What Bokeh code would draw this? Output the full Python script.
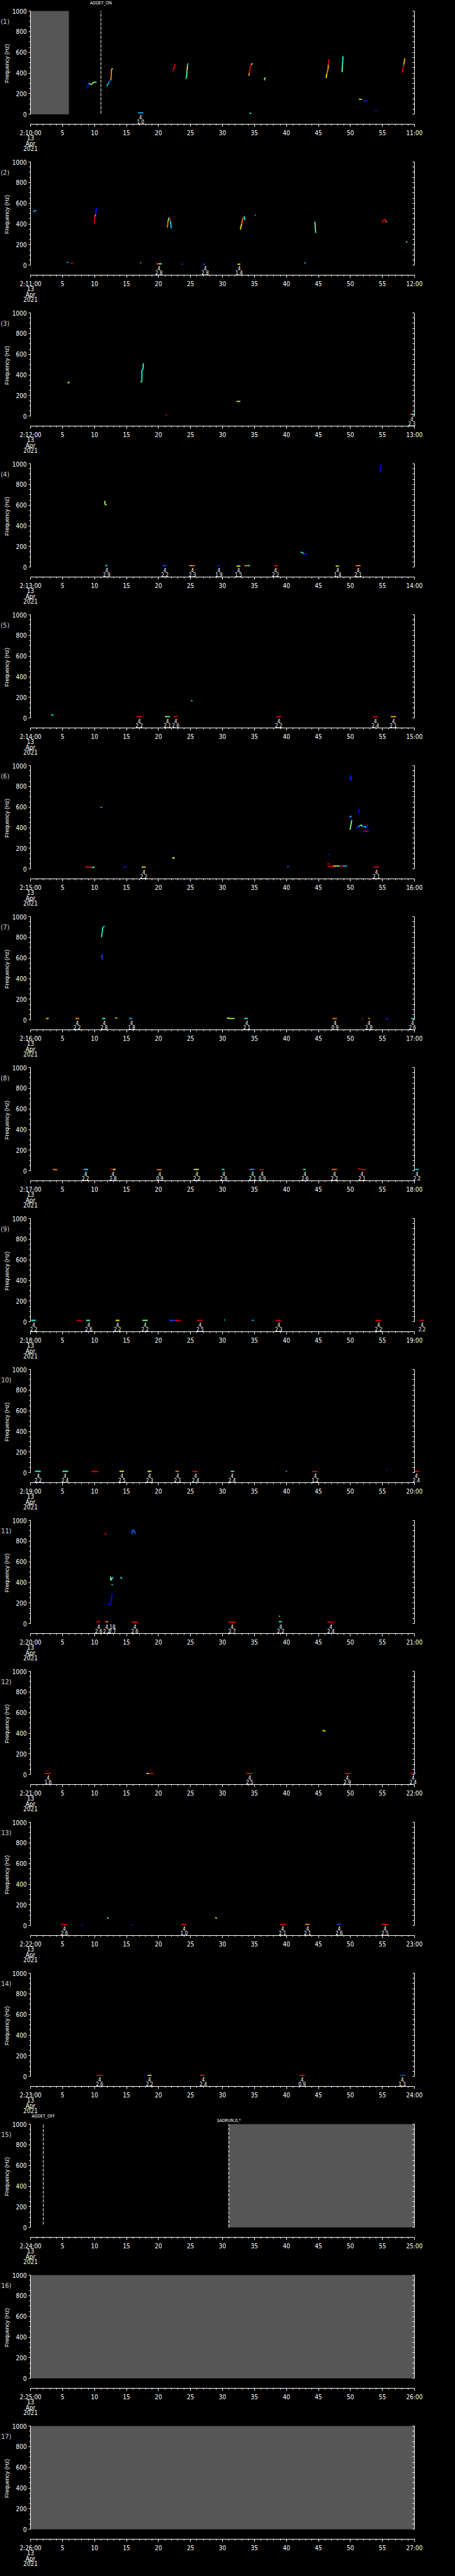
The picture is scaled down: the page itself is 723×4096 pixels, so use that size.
import numpy as np
from bokeh.plotting import figure
from bokeh.layouts import column
from bokeh.models import Range1d, LinearAxis, FixedTicker
from bokeh.core.properties import value
from bokeh.embed import file_html
from bokeh.resources import INLINE

FONT = "'Liberation Sans Narrow', 'DejaVu Sans Condensed', sans-serif"

# ---------------- data (t in seconds within the minute, f in Hz, c = colour level 0..1) -------------
START_MIN = list(range(10, 27))          # panel k covers 2:MM:00 .. 2:MM+1:00

P1_TRACES = [
    [(8.88, 248, .12), (9.0, 290, .15), (9.1, 301, .35), (9.3, 292, .45), (9.5, 289, .55), (9.7, 300, .6), (9.88, 312, .45), (10.33, 312, .4)],
    [(11.92, 275, .35), (12.1, 290, .3), (12.3, 315, .2), (12.5, 330, .7), (12.6, 351, .75), (12.65, 430, .65), (12.82, 444, .12)],
    [(22.25, 421, .9), (22.4, 440, .9), (22.5, 470, .9), (22.65, 484, .45)],
    [(24.29, 344, .4), (24.4, 365, .45), (24.47, 430, .65), (24.55, 470, .35), (24.6, 494, .12)],
    [(34.12, 372, .7), (34.2, 400, .9), (34.35, 466, .9), (34.5, 480, .6), (34.66, 494, .12)],
    [(36.52, 330, .5), (36.7, 358, .35)],
    [(46.2, 351, .65), (46.3, 390, .75), (46.5, 437, .7), (46.55, 480, .9), (46.6, 527, .9), (46.8, 523, .35)],
    [(48.7, 408, .5), (48.75, 473, .4), (48.84, 562, .3)],
    [(51.33, 148, .65), (51.5, 145, .5), (51.8, 143, .4)],
    [(52.1, 129, .15), (52.7, 129, .25)],
    [(53.9, 29, .15), (54.1, 29, .15)],
    [(58.1, 404, .9), (58.26, 458, .85), (58.35, 480, .7), (58.5, 542, .12)],
    [(16.8, 14, .3), (17.6, 14, .15)],
    [(34.2, 10, .4), (34.5, 10, .4)],
]
P1_ANN = [(17.2, "4", "1.0")]

P2_TRACES = [
    [(0.5, 513, .3), (0.6, 530, .3), (0.9, 528, .15)],
    [(5.66, 31, .3), (5.9, 26, .15)],
    [(6.3, 19, .9), (6.5, 26, .9), (6.7, 26, .9)],
    [(9.97, 398, .9), (10.06, 473, .75), (10.2, 494, .15), (10.3, 556, .15)],
    [(17.15, 24, .35), (17.3, 24, .35)],
    [(19.6, 14, .9), (19.9, 14, .7), (20.2, 14, .5), (20.5, 14, .35)],
    [(21.4, 364, .75), (21.5, 430, .5), (21.7, 466, .9), (21.85, 430, .35), (22.0, 358, .12)],
    [(23.6, 10, .2), (23.8, 10, .2)],
    [(27.0, 10, .2), (27.3, 10, .2)],
    [(32.35, 10, .65), (32.8, 10, .15)],
    [(32.8, 347, .65), (33.0, 401, .75), (33.2, 458, .9), (33.4, 473, .4), (33.5, 437, .4)],
    [(35.05, 487, .35), (35.2, 487, .35)],
    [(42.8, 23, .35), (43.0, 23, .35)],
    [(44.4, 421, .6), (44.45, 421, .45), (44.57, 312, .35)],
    [(54.9, 415, .9), (55.3, 448, .9), (55.5, 430, .75), (55.65, 418, .12)],
    [(58.7, 225, .45), (58.9, 225, .45)],
]
P2_ANN = [(20.07, "4", "2.8"), (27.3, "4", "2.8"), (32.6, "4", "1.4")]

P3_TRACES = [
    [(5.8, 318, .5), (5.95, 326, .6), (6.07, 334, .65)],
    [(17.2, 330, .55), (17.4, 337, .4), (17.4, 444, .4), (17.6, 458, .45), (17.62, 511, .4)],
    [(21.1, 10, .9), (21.3, 10, .7)],
    [(32.2, 143, .65), (32.5, 143, .4), (32.8, 143, .15)],
    [(59.2, 19, .9), (59.5, 19, .45), (60.0, 19, .15)],
]
P3_ANN = [(59.6, "4", "2.3")]

P4_TRACES = [
    [(11.6, 642, .55), (11.65, 605, .5), (11.9, 602, .15)],
    [(11.7, 14, .4), (12.0, 14, .4)],
    [(20.6, 14, .2), (21.3, 14, .35)],
    [(24.8, 14, .7), (25.3, 14, .75), (25.7, 14, .15)],
    [(29.2, 10, .15), (29.6, 10, .15)],
    [(32.2, 10, .65), (32.8, 10, .15)],
    [(33.4, 14, .75), (33.9, 14, .45), (34.3, 14, .35)],
    [(38.0, 14, .9), (38.65, 14, .75)],
    [(42.2, 148, .4), (42.5, 139, .4), (42.7, 132, .15), (43.2, 126, .12)],
    [(47.7, 10, .65), (48.2, 10, .75)],
    [(50.8, 14, .75), (51.6, 14, .4)],
    [(54.6, 920, .12), (54.8, 994, .15)],
]
P4_ANN = [(11.9, "4", "2.9"), (21.0, "4", "2.2"), (25.3, "4", "2.3"), (29.45, "4", "1.9"),
          (32.5, "4", "1.5"), (38.3, "4", "2.2"), (48.0, "4", "1.4"), (51.2, "4", "2.1")]

P5_TRACES = [
    [(3.2, 30, .35), (3.6, 30, .3)],
    [(16.6, 14, .9), (17.4, 14, .4)],
    [(21.0, 14, .5), (21.8, 14, .3)],
    [(22.4, 14, .9), (23.0, 14, .7)],
    [(25.1, 170, .4), (25.3, 165, .4)],
    [(38.4, 14, .9), (39.2, 14, .3)],
    [(53.5, 14, .9), (54.3, 14, .4)],
    [(56.3, 14, .7), (57.1, 14, .2)],
]
P5_ANN = [(17.0, "4", "2.2"), (21.4, "4", "2.1"), (22.7, "4", "2.6"), (38.8, "4", "2.2"),
          (53.9, "4", "2.4"), (56.7, "4", "2.1")]

P6_TRACES = [
    [(8.5, 19, .9), (9.2, 19, .9), (9.6, 17, .4), (10.0, 14, .45)],
    [(10.9, 599, .3), (11.2, 595, .15)],
    [(14.5, 19, .15), (14.95, 19, .15)],
    [(17.35, 19, .65), (18.0, 19, .15)],
    [(22.2, 115, .6), (22.35, 100, .5), (22.5, 112, .35)],
    [(40.1, 24, .2), (40.4, 24, .35)],
    [(46.5, 143, .15), (46.7, 143, .15)],
    [(46.4, 50, .9), (46.7, 50, .7)],
    [(46.4, 26, .9), (47.0, 26, .9), (47.3, 29, .65), (47.8, 29, .5), (48.3, 29, .9), (48.8, 29, .3), (49.5, 29, .2)],
    [(49.8, 880, .15), (49.95, 870, .15), (50.05, 905, .15), (50.15, 852, .15)],
    [(49.8, 490, .15), (49.9, 510, .3), (50.2, 508, .15)],
    [(49.9, 380, .55), (50.0, 395, .5), (50.2, 473, .5)],
    [(51.3, 547, .15), (51.3, 580, .15)],
    [(50.9, 394, .15), (51.2, 410, .3), (51.5, 418, .5), (51.7, 428, .35), (51.9, 410, .2), (52.2, 415, .35), (52.5, 400, .15), (52.7, 430, .2)],
    [(52.0, 355, .15), (52.3, 375, .9), (52.6, 360, .15), (52.9, 375, .3)],
    [(53.6, 19, .9), (54.5, 19, .4)],
]
P6_ANN = [(17.7, "4", "2.2"), (54.05, "4", "2.1")]

P7_TRACES = [
    [(11.1, 800, .4), (11.24, 867, .4), (11.3, 898, .35), (11.6, 907, .15)],
    [(11.15, 633, .2), (11.15, 600, .2), (11.3, 585, .3)],
    [(2.4, 14, .7), (2.85, 14, .3)],
    [(7.0, 14, .75), (7.6, 14, .4)],
    [(11.2, 14, .4), (11.7, 14, .3)],
    [(13.2, 19, .7), (13.6, 19, .5)],
    [(15.45, 14, .3), (15.9, 14, .3)],
    [(30.7, 19, .6), (31.2, 14, .5), (31.9, 14, .35)],
    [(33.4, 14, .4), (34.0, 14, .3)],
    [(47.2, 14, .75), (47.9, 14, .65)],
    [(51.8, 10, .9), (52.0, 10, .9)],
    [(52.8, 14, .7), (53.05, 14, .5)],
    [(55.5, 10, .15), (55.9, 10, .2)],
    [(59.5, 14, .4), (60.0, 14, .35)],
]
P7_ANN = [(7.3, "4", "2.2"), (11.5, "4", "2.8"), (15.8, "4", "1.8"), (33.8, "4", "2.1"),
          (47.6, "4", "0.9"), (52.9, "4", "2.8"), (59.7, "4", "2.6")]

P8_TRACES = [
    [(3.5, 14, .75), (4.2, 12, .9)],
    [(8.3, 14, .35), (9.0, 14, .2)],
    [(12.4, 16, .9), (12.9, 14, .6), (13.3, 14, .3)],
    [(19.75, 12, .75), (20.5, 12, .2)],
    [(25.5, 14, .6), (26.3, 14, .2)],
    [(29.9, 14, .45), (30.3, 14, .35)],
    [(34.25, 14, .3), (35.0, 14, .2)],
    [(35.8, 12, .9), (36.4, 12, .6)],
    [(42.6, 14, .45), (43.0, 14, .3)],
    [(47.1, 14, .75), (47.9, 14, .3)],
    [(51.2, 24, .9), (51.8, 14, .9), (52.4, 12, .2)],
    [(60.1, 14, .35), (60.7, 14, .2)],
]
P8_ANN = [(8.6, "4", "2.2"), (12.9, "4", "2.8"), (20.2, "4", "0.9"), (26.0, "4", "2.2"), (30.2, "4", "2.6"),
          (34.7, "4", "2.1"), (36.2, "4", "0.9"), (42.9, "4", "2.6"), (47.5, "4", "2.2"), (51.8, "4", "2.1"),
          (60.4, "4", "2.2")]

P9_TRACES = [
    [(0.1, 14, .4), (0.8, 14, .35)],
    [(7.2, 14, .9), (8.1, 12, .9)],
    [(8.7, 14, .45), (9.3, 14, .35)],
    [(13.3, 14, .65), (13.9, 14, .4)],
    [(17.5, 14, .5), (18.3, 14, .35)],
    [(21.7, 14, .2), (22.6, 14, .9), (23.5, 12, .9)],
    [(26.0, 14, .9), (26.9, 14, .3)],
    [(30.25, 18, .35), (30.4, 18, .35)],
    [(34.6, 18, .3), (34.9, 12, .2)],
    [(38.3, 14, .9), (39.2, 12, .9)],
    [(53.9, 14, .9), (54.8, 12, .9)],
    [(60.8, 14, .9), (61.5, 14, .4)],
]
P9_ANN = [(0.5, "4", "2.2"), (9.1, "4", "2.6"), (13.6, "4", "2.2"), (17.9, "4", "2.2"), (26.5, "4", "2.5"),
          (38.8, "4", "2.3"), (54.4, "4", "2.2"), (61.2, "4", "2.2")]

P10_TRACES = [
    [(0.7, 14, .4), (1.6, 14, .2)],
    [(5.0, 14, .45), (5.9, 14, .3)],
    [(9.5, 14, .9), (10.6, 12, .9)],
    [(13.9, 14, .65), (14.6, 14, .4)],
    [(18.3, 14, .6), (18.9, 14, .4)],
    [(22.65, 14, .75), (23.2, 14, .4)],
    [(25.3, 14, .9), (26.2, 12, .9)],
    [(31.3, 14, .45), (31.85, 14, .3)],
    [(39.9, 16, .3), (40.1, 12, .2)],
    [(44.0, 12, .9), (44.9, 12, .9)],
    [(55.65, 30, .15), (55.8, 30, .15)],
    [(59.85, 14, .9), (60.8, 12, .9)],
]
P10_ANN = [(1.2, "4", "2.2"), (5.4, "4", "2.4"), (14.3, "4", "2.5"), (18.6, "4", "2.3"), (23.0, "4", "2.1"),
           (25.8, "4", "2.4"), (31.5, "4", "2.4"), (44.5, "4", "1.2"), (60.3, "4", "2.4")]

P11_TRACES = [
    [(11.6, 864, .9), (11.9, 874, .15)],
    [(15.85, 865, .2), (15.9, 905, .25), (16.1, 905, .25), (16.3, 875, .2), (16.5, 880, .2)],
    [(12.05, 186, .12), (12.6, 192, .12), (12.73, 287, .12), (12.9, 287, .35)],
    [(12.7, 372, .35), (12.8, 384, .35)],
    [(12.5, 458, .45), (12.55, 418, .5), (12.75, 440, .35), (12.95, 450, .2)],
    [(14.05, 451, .35), (14.3, 437, .3)],
    [(10.3, 19, .9), (10.9, 19, .9)],
    [(11.6, 19, .9), (11.8, 19, .65), (12.1, 19, .35)],
    [(15.8, 19, .9), (16.2, 14, .9), (16.8, 14, .15)],
    [(30.9, 19, .9), (31.3, 14, .9), (32.1, 14, .9)],
    [(38.8, 19, .4), (39.3, 19, .3)],
    [(38.85, 72, .55), (39.0, 72, .55)],
    [(46.4, 19, .9), (46.9, 14, .9), (47.5, 14, .15)],
]
P11_ANN = [(10.65, "4", "2.6"), (11.9, "4", "2.2"), (12.8, "18", "2.7"), (16.3, "4", "2.6"),
           (31.5, "4", "2.7"), (39.1, "4", "2.2"), (46.95, "4", "2.4")]

P12_TRACES = [
    [(2.2, 12, .9), (2.8, 12, .9), (3.2, 12, .4)],
    [(18.1, 12, .65), (18.5, 12, .9), (19.2, 12, .9)],
    [(33.7, 14, .9), (34.3, 12, .9), (34.7, 12, .5)],
    [(45.6, 428, .65), (45.85, 425, .6), (46.1, 420, .12)],
    [(49.1, 12, .9), (49.7, 12, .9), (50.0, 12, .5)],
    [(59.4, 14, .9), (59.9, 14, .2), (60.3, 14, .2)],
]
P12_ANN = [(2.75, "4", "1.6"), (34.25, "4", "2.5"), (49.5, "4", "2.9"), (59.8, "4", "2.4")]

P13_TRACES = [
    [(4.75, 12, .9), (5.2, 10, .9), (5.7, 10, .2)],
    [(8.0, 6, .15), (8.2, 6, .15)],
    [(12.0, 80, .45), (12.15, 68, .4)],
    [(15.7, 2, .15), (15.9, 2, .15)],
    [(23.5, 10, .9), (24.4, 10, .9)],
    [(28.9, 80, .65), (29.1, 68, .35)],
    [(39.0, 12, .9), (39.9, 10, .9)],
    [(42.95, 12, .75), (43.6, 12, .6)],
    [(47.9, 12, .2), (48.5, 12, .3)],
    [(54.8, 12, .9), (55.9, 10, .9)],
]
P13_ANN = [(5.3, "4", "2.6"), (24.0, "4", "1.0"), (39.4, "4", "2.1"), (43.3, "4", "2.1"),
           (48.25, "4", "2.6"), (55.4, "4", "2.5")]

P14_TRACES = [
    [(10.3, 12, .9), (11.3, 10, .9)],
    [(18.3, 12, .65), (18.9, 12, .15)],
    [(26.5, 12, .9), (27.2, 12, .7)],
    [(42.0, 12, .9), (42.9, 12, .45)],
    [(57.7, 12, .2), (58.6, 12, .5)],
]
P14_ANN = [(10.8, "4", "2.6"), (18.6, "4", "2.2"), (27.0, "4", "2.4"), (42.45, "4", "0.9"), (58.1, "4", "1.3")]

TRACES = {0: P1_TRACES, 1: P2_TRACES, 2: P3_TRACES, 3: P4_TRACES, 4: P5_TRACES, 5: P6_TRACES, 6: P7_TRACES,
          7: P8_TRACES, 8: P9_TRACES, 9: P10_TRACES, 10: P11_TRACES, 11: P12_TRACES, 12: P13_TRACES,
          13: P14_TRACES}
ANNS = {0: P1_ANN, 1: P2_ANN, 2: P3_ANN, 3: P4_ANN, 4: P5_ANN, 5: P6_ANN, 6: P7_ANN,
        7: P8_ANN, 8: P9_ANN, 9: P10_ANN, 10: P11_ANN, 11: P12_ANN, 12: P13_ANN, 13: P14_ANN}

# gray (no data) intervals: (panel, t0, t1)
GRAY = [(0, 0, 6), (14, 31, 60), (15, 0, 60), (16, 0, 60)]
# event markers: (panel, t, f_bottom, label, label_f)
EVENTS = [(0, 11, 7, "ADDET_ON", 1077), (14, 2, 28, "ADDET_OFF", 1077), (14, 31, 0, "$ADRUN,0,*", 1036)]

# ---------------- layout (pixel geometry of one panel) ----------------
W, H = 715, 240
BL, BR, BT = 48, 57, 17          # plot area left / right margin and top
PX_PER_HZ = 164.3 / 1000.0       # vertical scale
AXIS_Y = 197.4                   # time axis line (pixels from panel top)
FW = W - BL - BR
SEC_PER_PX = 60.0 / FW
X0, X1 = -BL * SEC_PER_PX, 60 + BR * SEC_PER_PX
Y1 = 1000 + BT / PX_PER_HZ
Y0 = 1000 - (H - BT) / PX_PER_HZ


def jet(c):
    r = np.clip(1.5 - abs(4 * c - 3), 0, 1)
    g = np.clip(1.5 - abs(4 * c - 2), 0, 1)
    b = np.clip(1.5 - abs(4 * c - 1), 0, 1)
    return "#%02x%02x%02x" % (int(r * 255), int(g * 255), int(b * 255))


def xd(figx):
    return (figx - BL) * SEC_PER_PX


def yd(figy):
    return 1000 - (figy - BT) / PX_PER_HZ


def txt(p, x, y, s, size, color="white", font=FONT, angle=0.0, align="center"):
    p.text(x=[x], y=[y], text=[s], angle=angle, text_align=align, text_baseline="middle",
           text_color=color, text_font=value(font), text_font_size=size)


def make_panel(k):
    p = figure(width=W, height=H, x_range=Range1d(X0, X1), y_range=Range1d(Y0, Y1),
               output_backend="svg", toolbar_location=None, min_border=0,
               background_fill_color="black", border_fill_color="black", outline_line_color=None)
    p.xgrid.visible = False
    p.ygrid.visible = False

    # left frequency axis
    ya = p.yaxis[0]
    ya.fixed_location = 0
    ya.bounds = (0, 1000)
    ya.ticker = FixedTicker(ticks=list(range(0, 1001, 200)), minor_ticks=list(range(0, 1001, 50)))
    ya.axis_line_color = "white"
    ya.major_tick_line_color = "white"
    ya.minor_tick_line_color = "white"
    ya.major_tick_in = 0
    ya.major_tick_out = 3
    ya.minor_tick_in = 0
    ya.minor_tick_out = 2
    ya.major_label_text_color = "white"
    ya.major_label_text_font = FONT
    ya.major_label_text_font_size = "10px"
    ya.major_label_standoff = 3

    # right axis (ticks only)
    ra = LinearAxis(fixed_location=60, bounds=(0, 1000), ticker=FixedTicker(ticks=list(range(0, 1001, 50))),
                    axis_line_color="white", major_tick_line_color="white",
                    major_tick_in=3, major_tick_out=0, minor_tick_in=0, minor_tick_out=0,
                    major_label_text_alpha=0, major_label_text_font_size="1px")
    p.add_layout(ra, "right")

    # time axis
    xa = p.xaxis[0]
    xa.fixed_location = yd(AXIS_Y)
    xa.bounds = (0, 60)
    xa.ticker = FixedTicker(ticks=list(range(0, 61, 5)), minor_ticks=list(range(0, 61)))
    xa.axis_line_color = "white"
    xa.major_tick_line_color = "white"
    xa.minor_tick_line_color = "white"
    xa.major_tick_in = 0
    xa.major_tick_out = 4
    xa.minor_tick_in = 0
    xa.minor_tick_out = 2
    xa.major_label_text_color = "white"
    xa.major_label_text_font = FONT
    xa.major_label_text_font_size = "10px"
    xa.major_label_standoff = 4
    m = START_MIN[k]
    ov = {t: str(t) for t in range(5, 60, 5)}
    ov[0] = "2:%02d:00" % m
    ov[60] = "%02d:00" % (m + 1)
    xa.major_label_overrides = ov

    for s, fy in (("13", 218.9), ("Apr", 227.7), ("2021", 235.8)):
        txt(p, 0, yd(fy), s, "10px")

    # panel number and axis title
    txt(p, xd(7.5), yd(33.8), "(%d)" % (k + 1), "11px", color="#d0d0d0")
    txt(p, xd(10.5), 500, "Frequency  (Hz)", "9px", font="Liberation Sans", angle=np.pi / 2)

    # gray no-data regions
    for (pk, t0, t1) in GRAY:
        if pk == k:
            p.quad(left=t0, right=t1, bottom=0, top=1000, fill_color="#565656", line_color=None)

    # traces
    for tr in TRACES.get(k, []):
        x0 = [a[0] for a in tr[:-1]]
        y0 = [a[1] for a in tr[:-1]]
        x1 = [a[0] for a in tr[1:]]
        y1 = [a[1] for a in tr[1:]]
        cols = [jet(a[2]) for a in tr[:-1]]
        p.segment(x0=x0, y0=y0, x1=x1, y1=y1, line_color=cols, line_width=1.8)

    # annotations below traces
    ann = ANNS.get(k, [])
    if ann:
        at = [a[0] for a in ann]
        p.text(x=at, y=[-25.6] * len(at), text=[a[1] for a in ann], text_align="center",
               text_baseline="middle", text_color="white", text_font=value(FONT), text_font_size="8px")
        p.text(x=at, y=[-68.8] * len(at), text=[a[2] for a in ann], text_align="center",
               text_baseline="middle", text_color="white", text_font=value(FONT), text_font_size="8px")

    # event markers
    for (pk, t, fb, lab, lf) in EVENTS:
        if pk == k:
            p.segment(x0=[t], y0=[fb], x1=[t], y1=[1000], line_color="white", line_width=1,
                      line_dash="5 2")
            txt(p, t, lf, lab, "7px")
    return p


panels = [make_panel(k) for k in range(17)]
layout = column(*panels, spacing=0, background="black")
html = file_html(layout, INLINE, title="Frequency")
html = html.replace("<head>", "<head><style>body{background:#000000;}</style>", 1)
open("out.html", "w").write(html)
